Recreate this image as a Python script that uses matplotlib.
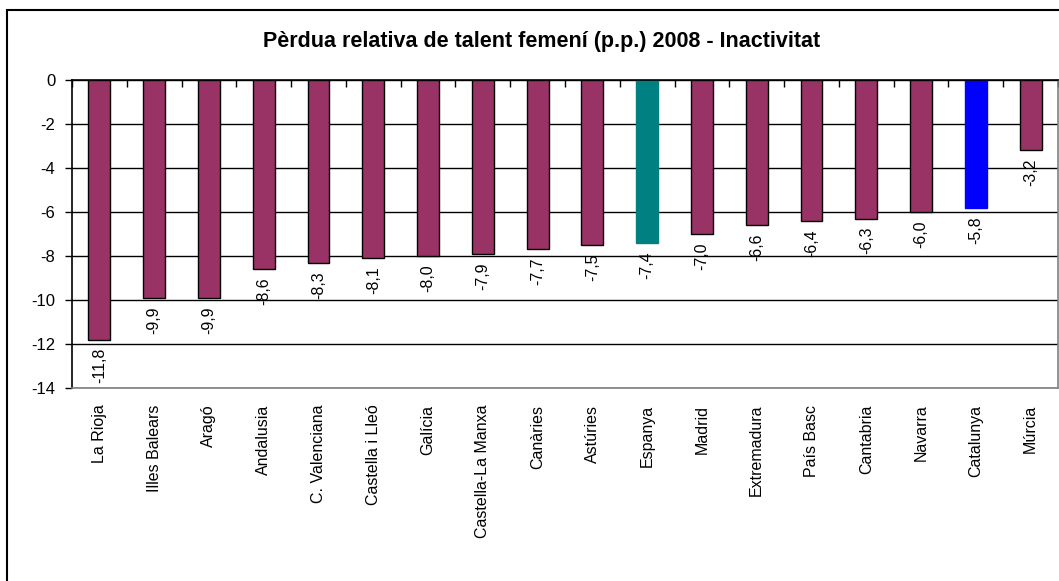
import matplotlib.pyplot as plt
from matplotlib.patches import Rectangle
import numpy as np

plt.rcParams['font.family'] = ['Liberation Sans', 'DejaVu Sans']

# dades
regions = ['La Rioja', 'Illes Balears', 'Aragó', 'Andalusia', 'C. Valenciana',
           'Castella i Lleó', 'Galícia', 'Castella-La Manxa', 'Canàries', 'Astúries',
           'Espanya', 'Madrid', 'Extremadura', 'País Basc', 'Cantabria', 'Navarra',
           'Catalunya', 'Múrcia']
values = [-11.8, -9.9, -9.9, -8.6, -8.3, -8.1, -8.0, -7.9, -7.7, -7.5,
          -7.4, -7.0, -6.6, -6.4, -6.3, -6.0, -5.8, -3.2]
highlight = {'Espanya': '#008080', 'Catalunya': '#0000FF'}
base_color = '#993366'

fig = plt.figure(figsize=(10.59, 5.81), dpi=100)

# marc exterior del grafic
fig.patches.append(Rectangle((7 / 1059, -0.1), 1.2, 1.1 - 10 / 581,
                             transform=fig.transFigure, fill=False,
                             edgecolor='black', linewidth=1.5))

ax = fig.add_axes([72 / 1059, 1 - 388 / 581, (1058 - 72) / 1059, 308 / 581])

x = np.arange(len(regions))
colors = [highlight.get(r, base_color) for r in regions]
edges = [highlight.get(r, 'black') for r in regions]
ax.bar(x, values, width=0.4, color=colors, edgecolor=edges, linewidth=1, zorder=3)

for xi, v in zip(x, values):
    ax.annotate(f'{v:.1f}'.replace('.', ','), (xi, v), xytext=(0, -6),
                textcoords='offset points', rotation=90, ha='center', va='top',
                fontsize=11.5, zorder=4)

ax.set_xlim(-0.5, len(regions) - 0.5)
ax.set_ylim(-14, 0)
ax.set_yticks(np.arange(-14, 1, 2))
ax.set_yticklabels([str(t) for t in range(-14, 1, 2)], fontsize=12)
ax.yaxis.grid(True, color='black', linewidth=1, zorder=0)

ax.set_xticks(x)
ax.set_xticklabels(regions, rotation=90, fontsize=11.5, va='top')
ax.tick_params(axis='x', which='major', length=0, pad=12)
ax.set_xticks(np.arange(-0.5, len(regions)), minor=True)
ax.tick_params(axis='x', which='minor', bottom=False, top=True, direction='in',
               length=5, width=1, color='black')
ax.tick_params(axis='y', length=5, width=1, pad=7)

ax.spines['top'].set_color('black')
ax.spines['left'].set_color('black')
ax.spines['right'].set_color('#808080')
ax.spines['bottom'].set_color('#808080')
for s in ax.spines.values():
    s.set_linewidth(1.2)
    s.set_zorder(5)

fig.text(542 / 1059, 1 - 41 / 581,
         'Pèrdua relativa de talent femení (p.p.) 2008 - Inactivitat',
         ha='center', va='center', fontsize=15.5, fontweight='bold')

fig.savefig('out.png', dpi=100)
